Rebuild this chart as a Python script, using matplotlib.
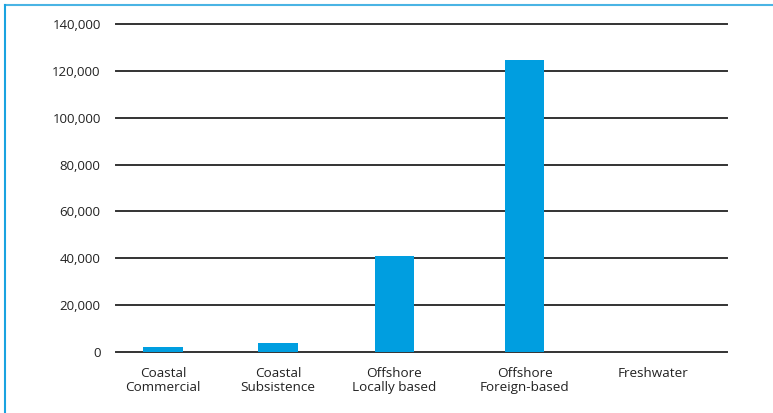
import matplotlib.pyplot as plt
from matplotlib.lines import Line2D

categories = ["Coastal\nCommercial", "Coastal\nSubsistence", "Offshore\nLocally based",
              "Offshore\nForeign-based", "Freshwater"]
values = [2100, 3800, 41000, 124500, 0]
yticks = [0, 20000, 40000, 60000, 80000, 100000, 120000, 140000]

# slot positions along x (spacing in the original is not quite even)
slots = [0, 0.935, 1.88, 2.94, 3.98]

plt.rcParams['font.family'] = ['Open Sans', 'DejaVu Sans']

fig = plt.figure(figsize=(7.73, 4.13), dpi=100)
ax = fig.add_axes([116 / 773, 1 - 352 / 413, (727 - 116) / 773, (352 - 24) / 413])

# grid lines sit under the bars
for t in yticks:
    ax.axhline(t, color="#333333", lw=1.4, zorder=1, clip_on=False)

ax.bar(slots, values, width=0.32, color="#009ee0", zorder=2)

ax.set_xlim(-0.382, 4.585)
ax.set_ylim(0, 140000)
ax.set_yticks(yticks)
ax.set_yticklabels([f"{t:,}" for t in yticks], fontsize=9.5, color="#222222")
ax.set_xticks(slots)
ax.set_xticklabels(categories, fontsize=9.7, color="#222222", linespacing=1.05, va="top")
ax.tick_params(axis="y", length=0, pad=11)
ax.tick_params(axis="x", length=0, pad=11)
for s in ax.spines.values():
    s.set_visible(False)

# light blue frame on the top and left edges
fig.add_artist(Line2D([4.5 / 773, 1], [1 - 4.5 / 413, 1 - 4.5 / 413], color="#4ab4e4", lw=1.5,
                      transform=fig.transFigure))
fig.add_artist(Line2D([4.5 / 773, 4.5 / 773], [0, 1 - 4.5 / 413], color="#1aa3e0", lw=1.5,
                      transform=fig.transFigure))

fig.savefig("out.png", dpi=100)
